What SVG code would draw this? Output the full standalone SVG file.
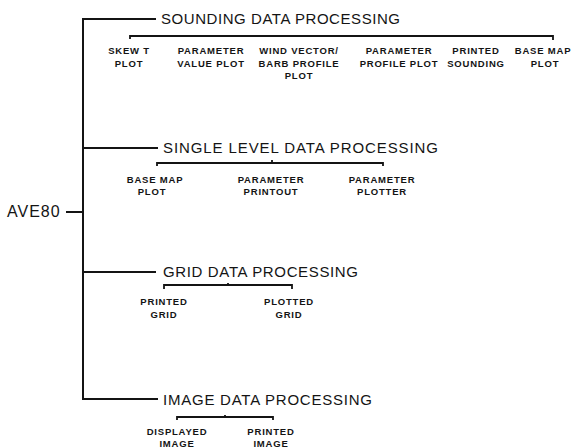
<svg xmlns="http://www.w3.org/2000/svg" width="582" height="448" viewBox="0 0 582 448">
<style>
.bg{fill:#ffffff}
.ln{fill:none;stroke:#141414;stroke-width:2;stroke-linecap:square;stroke-linejoin:miter}
.br{fill:none;stroke:#141414;stroke-width:1.8}
.root{font-family:"Liberation Sans","DejaVu Sans",sans-serif;font-size:16px;fill:#141414;letter-spacing:1px}
.ttl{font-family:"Liberation Sans","DejaVu Sans",sans-serif;font-size:15px;fill:#141414}
.leaf{font-family:"Liberation Sans","DejaVu Sans",sans-serif;font-size:9.5px;font-weight:bold;fill:#141414;text-anchor:middle;letter-spacing:0.8px}
</style>
<rect class="bg" x="0" y="0" width="582" height="448"/>
<g id="connectors">
  <path class="ln" d="M155 19 H83 V399 H157"/>
  <path class="ln" d="M83 148 H157"/>
  <path class="ln" d="M83 272 H155"/>
  <path class="ln" d="M67 212 H82"/>
  <path class="br" d="M130 39 V36 H553 V40"/>
  <path class="br" d="M157 166 V163 H383 V166 M272 163 V160"/>
  <path class="br" d="M164 289 V285 H292 V289 M228 285 V283"/>
  <path class="br" d="M177 420 V417 H273 V420 M225 417 V415"/>
</g>
<g id="root"><text class="root" x="7" y="217">AVE80</text></g>
<g id="sounding"><text class="ttl" x="161" y="24" textLength="239" lengthAdjust="spacing">SOUNDING DATA PROCESSING</text></g>
<g id="single-level"><text class="ttl" x="163" y="153" textLength="275" lengthAdjust="spacing">SINGLE LEVEL DATA PROCESSING</text></g>
<g id="grid"><text class="ttl" x="163" y="277" textLength="195" lengthAdjust="spacing">GRID DATA PROCESSING</text></g>
<g id="image"><text class="ttl" x="163" y="405" textLength="209" lengthAdjust="spacing">IMAGE DATA PROCESSING</text></g>
<g id="skew-t"><text class="leaf" x="129" y="54">SKEW T</text><text class="leaf" x="129" y="67">PLOT</text></g>
<g id="param-value"><text class="leaf" x="211" y="54">PARAMETER</text><text class="leaf" x="211" y="67">VALUE PLOT</text></g>
<g id="wind-vector"><text class="leaf" x="299" y="54">WIND VECTOR/</text><text class="leaf" x="299" y="67">BARB PROFILE</text><text class="leaf" x="299" y="79">PLOT</text></g>
<g id="param-profile"><text class="leaf" x="399" y="54">PARAMETER</text><text class="leaf" x="399" y="67">PROFILE PLOT</text></g>
<g id="printed-sounding"><text class="leaf" x="476" y="54">PRINTED</text><text class="leaf" x="476" y="67">SOUNDING</text></g>
<g id="base-map-sounding"><text class="leaf" x="543" y="54">BASE MAP</text><text class="leaf" x="545" y="67">PLOT</text></g>
<g id="base-map-single"><text class="leaf" x="155" y="183">BASE MAP</text><text class="leaf" x="152" y="195">PLOT</text></g>
<g id="param-printout"><text class="leaf" x="271" y="183">PARAMETER</text><text class="leaf" x="271" y="195">PRINTOUT</text></g>
<g id="param-plotter"><text class="leaf" x="382" y="183">PARAMETER</text><text class="leaf" x="382" y="195">PLOTTER</text></g>
<g id="printed-grid"><text class="leaf" x="164" y="305">PRINTED</text><text class="leaf" x="164" y="318">GRID</text></g>
<g id="plotted-grid"><text class="leaf" x="289" y="305">PLOTTED</text><text class="leaf" x="289" y="318">GRID</text></g>
<g id="displayed-image"><text class="leaf" x="177" y="435">DISPLAYED</text><text class="leaf" x="177" y="447">IMAGE</text></g>
<g id="printed-image"><text class="leaf" x="271" y="435">PRINTED</text><text class="leaf" x="271" y="447">IMAGE</text></g>
</svg>
